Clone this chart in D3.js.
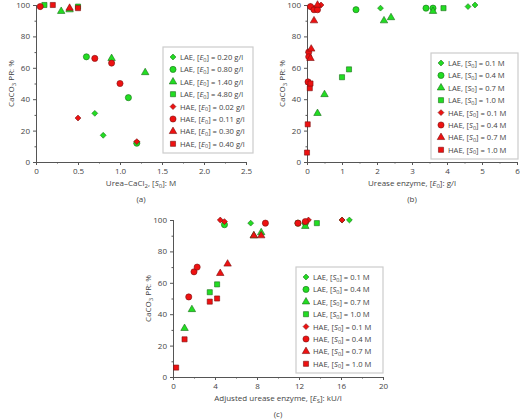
<!DOCTYPE html>
<html><head><meta charset="utf-8">
<script src="https://cdn.jsdelivr.net/npm/d3@7.9.0/dist/d3.min.js"></script>
<style>
body{margin:0;background:#fff;}
text{font-family:"Open Sans",sans-serif;fill:#444;}
</style></head>
<body><svg id="c" width="520" height="420"></svg>
<script>
const shapes = ['diamond', 'circle', 'triangle', 'square', 'diamond', 'circle', 'triangle', 'square'];
const groups = ['LAE', 'LAE', 'LAE', 'LAE', 'HAE', 'HAE', 'HAE', 'HAE'];
const labelsA = ['0.20 g/l', '0.80 g/l', '1.40 g/l', '4.80 g/l', '0.02 g/l', '0.11 g/l', '0.30 g/l', '0.40 g/l'];
const labelsS = ['0.1 M', '0.4 M', '0.7 M', '1.0 M', '0.1 M', '0.4 M', '0.7 M', '1.0 M'];

const dataA = [
  [[0.7,31],[0.8,17],[1.2,12]],
  [[0.6,67],[1.1,41],[1.2,12]],
  [[0.3,96],[0.4,97],[0.9,66],[1.3,57]],
  [[0.1,100],[0.5,99]],
  [[0.5,28],[1.2,13]],
  [[0.05,99],[0.7,66],[0.9,63],[1.0,50]],
  [[0.4,98]],
  [[0.2,100],[0.5,98]]
];
const dataB = [
  [[2.1,98],[4.6,99],[4.8,100]],
  [[1.4,97],[3.4,98],[3.6,98]],
  [[0.3,31],[0.5,43],[2.2,90],[2.4,92],[3.6,96]],
  [[1.0,54],[1.2,59],[3.9,98]],
  [[0.1,99],[0.2,98],[0.3,99],[0.4,100]],
  [[0.1,99],[0.2,97],[0.3,97],[0.05,70],[0.05,67],[0.03,51]],
  [[0.2,90],[0.12,72],[0.1,66],[0.3,100]],
  [[0.0,6],[0.02,24],[0.08,47],[0.1,50]]
];
const dataC = [
  [[7.4,98],[16.1,100],[16.8,100]],
  [[4.9,97],[11.9,98],[12.6,98]],
  [[1.1,31],[1.8,43],[7.7,90],[8.4,92],[12.6,96]],
  [[3.5,54],[4.2,59],[13.7,98]],
  [[4.5,100],[4.9,99],[12.9,100],[16.1,100]],
  [[1.5,51],[2.0,67],[2.3,70],[8.8,98],[11.9,98],[12.6,99]],
  [[4.5,66],[5.2,72],[7.7,90],[8.4,90]],
  [[0.3,6],[1.1,24],[3.5,48],[4.2,50]]
];

const svg = d3.select('#c');
const symMap = {diamond: d3.symbolDiamond2, circle: d3.symbolCircle, triangle: d3.symbolTriangle, square: d3.symbolSquare};
const symSize = {diamond: 22, circle: 30, triangle: 24, square: 26};
const fillOf = i => i < 4 ? '#22dd22' : '#ee1111';
const strokeOf = i => i < 4 ? '#1a6d1a' : '#7a1010';

function panel(o) {
  const g = svg.append('g');
  const x = d3.scaleLinear().domain(o.xd).range([o.x0, o.x1]);
  const y = d3.scaleLinear().domain([0, 100]).range([o.y1, o.y0]);
  g.append('g').attr('transform', `translate(0,${o.y1})`)
    .call(d3.axisBottom(x).tickValues(o.xt).tickFormat(o.xf).tickSize(3));
  g.append('g').attr('transform', `translate(0,${o.y1})`)
    .call(d3.axisBottom(x).tickValues(o.xm).tickFormat('').tickSize(1.5));
  g.append('g').attr('transform', `translate(${o.x0},0)`)
    .call(d3.axisLeft(y).tickValues([0,20,40,60,80,100]).tickSize(3));
  g.append('g').attr('transform', `translate(${o.x0},0)`)
    .call(d3.axisLeft(y).tickValues([10,30,50,70,90]).tickFormat('').tickSize(1.5));
  g.selectAll('.domain,.tick line').attr('stroke', '#555');
  g.selectAll('.tick text').attr('font-size', 8).style('font-family', '"Open Sans",sans-serif').attr('fill', '#444');

  g.append('text').attr('x', (o.x0 + o.x1) / 2).attr('y', o.y1 + 24).attr('text-anchor', 'middle')
    .attr('font-size', 8).html(o.xlab);
  g.append('text').attr('x', (o.x0 + o.x1) / 2).attr('y', o.y1 + 40).attr('text-anchor', 'middle')
    .attr('font-size', 8).text(o.tag);
  g.append('text').attr('transform', `translate(${o.x0 - 22},${(o.y0 + o.y1) / 2}) rotate(-90)`)
    .attr('text-anchor', 'middle').attr('font-size', 8)
    .html('CaCO<tspan dy="2" font-size="6">3</tspan><tspan dy="-2"> PR: %</tspan>');

  o.data.forEach((pts, i) => {
    g.selectAll(null).data(pts).join('path')
      .attr('d', d3.symbol(symMap[shapes[i]], symSize[shapes[i]]))
      .attr('transform', d => `translate(${x(d[0])},${y(d[1])})`)
      .attr('fill', fillOf(i)).attr('stroke', strokeOf(i)).attr('stroke-width', 0.6);
  });

  const lg = g.append('g');
  lg.append('rect').attr('x', o.lx).attr('y', o.ly).attr('width', o.lw).attr('height', 106)
    .attr('fill', '#fff').attr('stroke', '#ccc').attr('stroke-width', 1.2);
  o.labels.forEach((lab, i) => {
    const yy = o.ly + 10 + i * 12.4;
    lg.append('path').attr('d', d3.symbol(symMap[shapes[i]], symSize[shapes[i]]))
      .attr('transform', `translate(${o.lx + 10},${yy})`)
      .attr('fill', fillOf(i)).attr('stroke', strokeOf(i)).attr('stroke-width', 0.6);
    lg.append('text').attr('x', o.lx + 17).attr('y', yy + 3).attr('font-size', 7.6)
      .html(`${groups[i]}, [<tspan font-style="italic">${o.sym}</tspan><tspan dy="1.5" font-size="5.5">0</tspan><tspan dy="-1.5">] = ${lab}</tspan>`);
  });
}

panel({x0: 36, x1: 246, y0: 5, y1: 162, xd: [0, 2.5], xt: [0, 0.5, 1, 1.5, 2, 2.5],
  xm: [0.25, 0.75, 1.25, 1.75, 2.25], xf: d => d === 0 ? '0' : d3.format('.1f')(d),
  xlab: 'Urea–CaCl<tspan dy="2" font-size="6">2</tspan><tspan dy="-2">, [</tspan><tspan font-style="italic">S</tspan><tspan dy="2" font-size="6">0</tspan><tspan dy="-2">]: M</tspan>',
  tag: '(a)', data: dataA, labels: labelsA, sym: 'E', lx: 163, ly: 47, lw: 90});
panel({x0: 307, x1: 517, y0: 5, y1: 162, xd: [0, 6], xt: [0, 1, 2, 3, 4, 5, 6],
  xm: [0.5, 1.5, 2.5, 3.5, 4.5, 5.5], xf: d3.format('d'),
  xlab: 'Urease enzyme, [<tspan font-style="italic">E</tspan><tspan dy="2" font-size="6">0</tspan><tspan dy="-2">]: g/l</tspan>',
  tag: '(b)', data: dataB, labels: labelsS, sym: 'S', lx: 431, ly: 53, lw: 87});
panel({x0: 173, x1: 383, y0: 220, y1: 377, xd: [0, 20], xt: [0, 4, 8, 12, 16, 20],
  xm: [2, 6, 10, 14, 18], xf: d3.format('d'),
  xlab: 'Adjusted urease enzyme, [<tspan font-style="italic">E</tspan><tspan dy="2" font-size="6">S</tspan><tspan dy="-2">]: kU/l</tspan>',
  tag: '(c)', data: dataC, labels: labelsS, sym: 'S', lx: 296, ly: 267, lw: 87});
</script></body></html>
